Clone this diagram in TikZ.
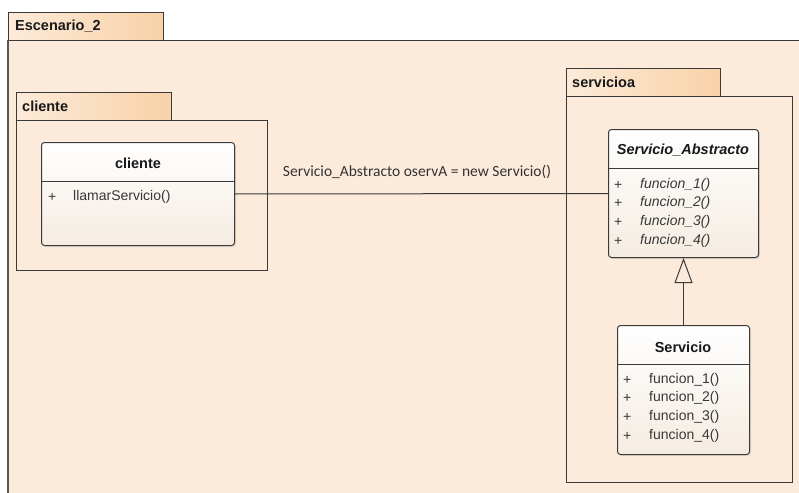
\documentclass[tikz,border=0pt]{standalone}
\usepackage{fontspec}
\setmainfont{Liberation Sans}
\newfontfamily\labelfont{Carlito}
\usetikzlibrary{arrows.meta,shadows}
\definecolor{pkgbody}{HTML}{FCEBDA}
\definecolor{tableft}{HTML}{FCEAD8}
\definecolor{tabright}{HTML}{F8D2A8}
\definecolor{classtop}{HTML}{FFFFFF}
\definecolor{classbot}{HTML}{F5ECE2}
\definecolor{edge}{HTML}{3A3A3A}
\tikzset{
  pkgtab/.style={draw=edge, line width=0.9pt, anchor=north west, inner sep=0pt,
    left color=tableft, right color=tabright},
  pkgbody/.style={draw=edge, line width=0.9pt, anchor=north west, inner sep=0pt, fill=pkgbody},
  pkgname/.style={anchor=west, font=\fontsize{14.5}{16}\selectfont\bfseries, text=black!90, inner sep=0pt},
  classbox/.style={draw=edge, line width=1pt, anchor=north west, inner sep=0pt,
    rounded corners=3pt, top color=classtop, bottom color=classbot,
    drop shadow={opacity=0.18, shadow xshift=1.5pt, shadow yshift=-1.5pt}},
  classname/.style={font=\fontsize{14.5}{16}\selectfont\bfseries, text=black!90, inner sep=0pt},
  member/.style={anchor=west, font=\fontsize{14}{16}\selectfont, text=black!78, inner sep=0pt},
  divider/.style={draw=edge, line width=0.9pt},
  assoc/.style={draw=edge, line width=1pt},
  realize/.style={draw=edge, line width=1pt, -{Triangle[open, length=25pt, width=18pt, line width=1pt]}}
}
\begin{document}
\begin{tikzpicture}[x=1pt, y=-1pt]
\useasboundingbox (0,0) rectangle (799,492);
\clip (0,0) rectangle (799,492);
\fill[white] (0,0) rectangle (799,492);

% outer package Escenario_2
\node[pkgtab, minimum width=155pt, minimum height=28pt] (outtab) at (8,12) {};
\node[pkgbody, minimum width=805pt, minimum height=470pt] (outbody) at (8,40) {};
\draw[draw=black!65, line width=2pt] (8,40) -- (8,500);
\node[pkgname] (outname) at (15,26) {Escenario\_2};

% package cliente
\node[pkgtab, minimum width=155pt, minimum height=28pt] (clitab) at (16,92) {};
\node[pkgbody, minimum width=251pt, minimum height=150pt] (clibody) at (16,120) {};
\node[pkgname] (cliname) at (22,106) {cliente};

% package servicioa
\node[pkgtab, minimum width=154pt, minimum height=28pt] (srvtab) at (566,68) {};
\node[pkgbody, minimum width=226pt, minimum height=386pt] (srvbody) at (566,96) {};
\node[pkgname] (srvname) at (572,82) {servicioa};

% class cliente
\node[classbox, minimum width=193pt, minimum height=103pt] (cli) at (41,142) {};
\draw[divider] (41,181) -- (234,181);
\node[classname] (clititle) at (138,163) {cliente};
\node[member] (cliplus) at (48,197) {+};
\node[member] (clim1) at (73,197) {llamarServicio()};

% class Servicio_Abstracto
\node[classbox, minimum width=150pt, minimum height=128pt] (sa) at (608,129) {};
\draw[divider] (608,168) -- (758,168);
\node[classname] (satitle) at (683,150) {\itshape Servicio\_Abstracto};
\foreach \i/\yy in {1/185,2/203,3/222,4/241}{
  \node[member] (saplus\i) at (614,\yy) {+};
  \node[member] (saf\i) at (640,\yy) {\itshape funcion\_\i()};
}

% class Servicio
\node[classbox, minimum width=132pt, minimum height=129pt] (srv) at (617,325) {};
\draw[divider] (617,364) -- (749,364);
\node[classname] (srvtitle) at (683,347) {Servicio};
\foreach \i/\yy in {1/380,2/398,3/417,4/436}{
  \node[member] (srvplus\i) at (623,\yy) {+};
  \node[member] (srvf\i) at (649,\yy) {funcion\_\i()};
}

% relations
\draw[assoc] (cli.east) -- (sa.west);
\node[font=\labelfont\fontsize{15.5}{17}\selectfont, text=black!80, inner sep=0pt] (assoclabel) at (417,172) {Servicio\_Abstracto oservA = new Servicio()};
\draw[realize] (srv.north) -- (sa.south);
\end{tikzpicture}
\end{document}
